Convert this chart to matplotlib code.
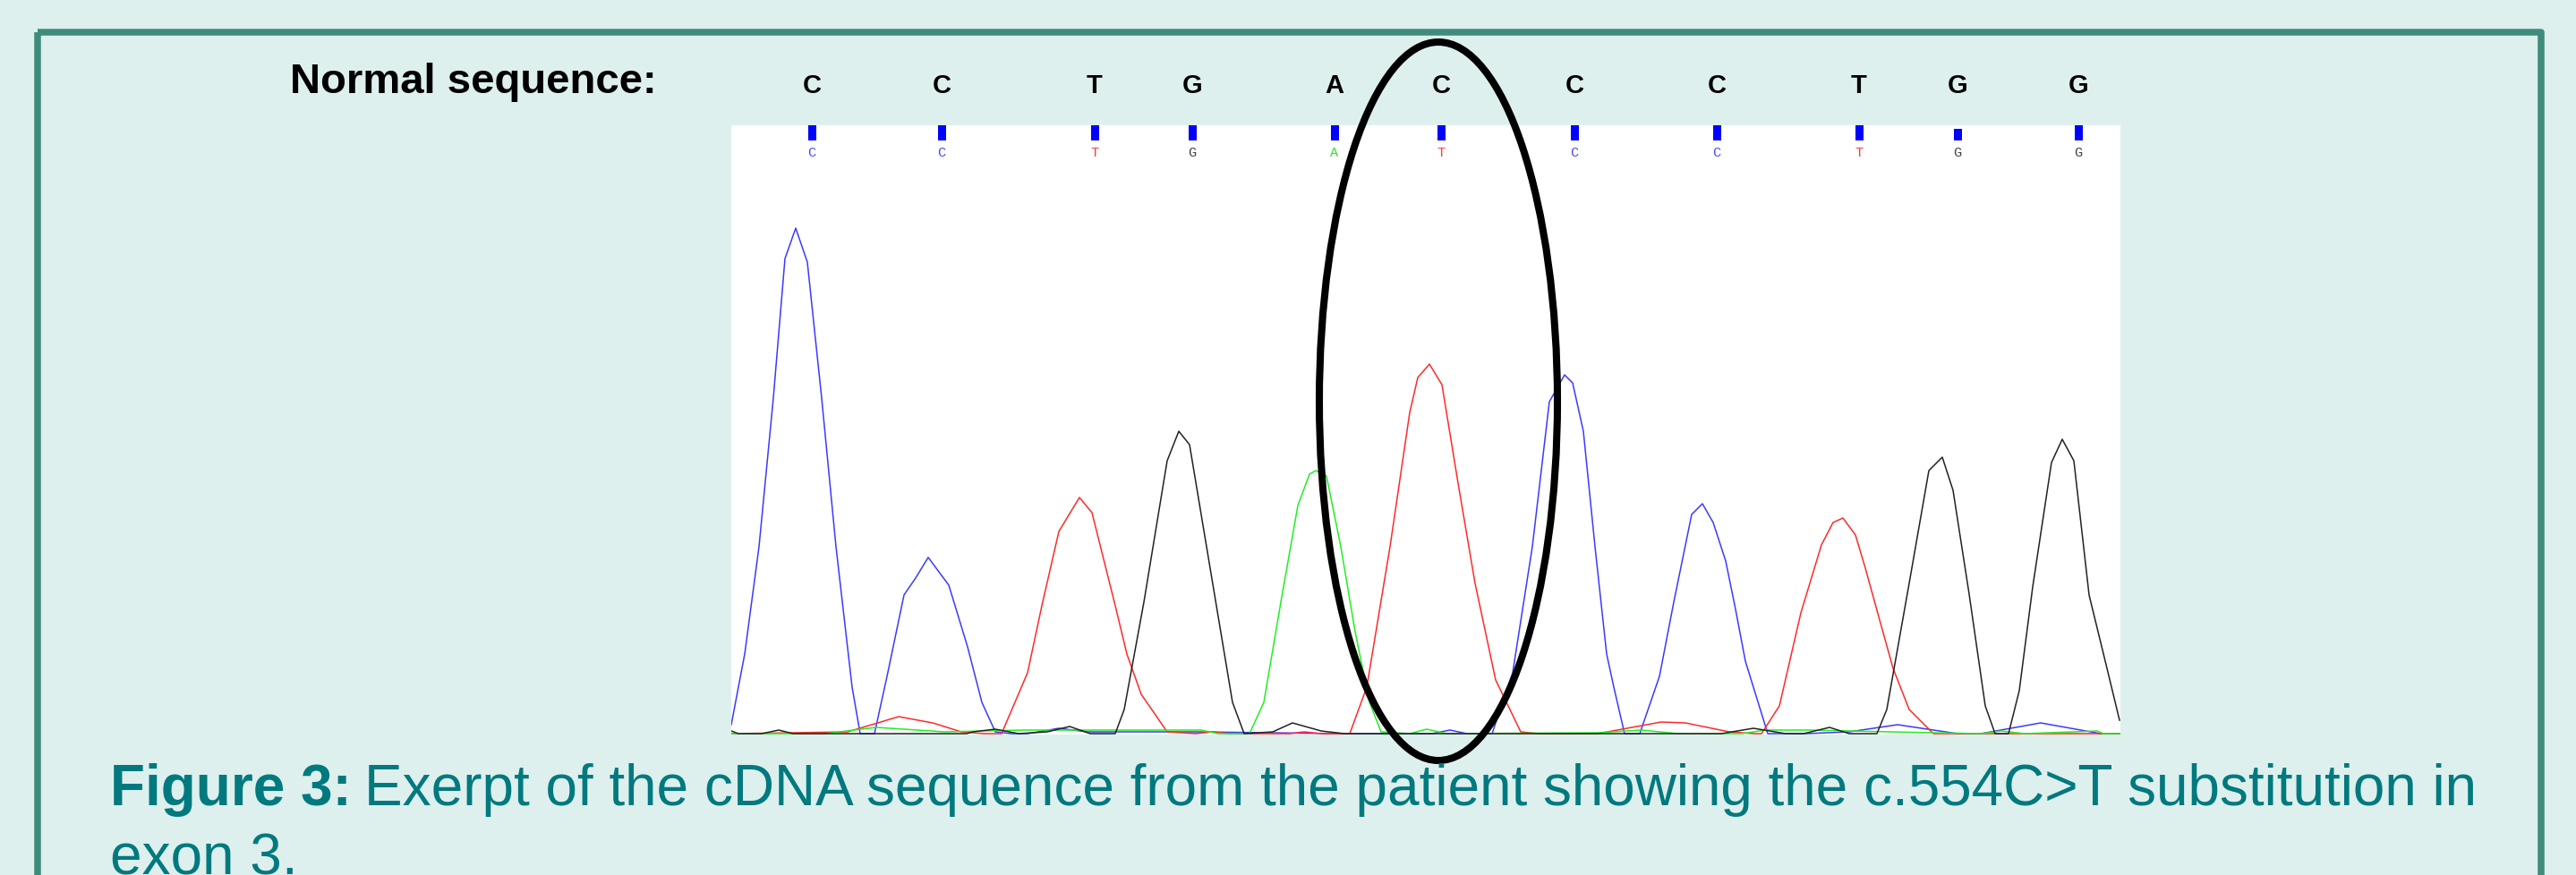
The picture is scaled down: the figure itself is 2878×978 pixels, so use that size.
import numpy as np
import matplotlib
matplotlib.use("Agg")
import matplotlib.pyplot as plt
import matplotlib.transforms as mtransforms
from matplotlib.patches import Ellipse, Rectangle

plt.rcParams['font.family'] = ['Liberation Sans', 'DejaVu Sans']

# chromatogram traces: scan position and signal
blue_x = [0, 15, 31, 47, 60, 72, 85, 101, 117, 135, 144, 160, 174, 193, 206, 220, 243, 264, 280, 295,
          313, 331, 366, 398, 519, 683, 783, 803, 822, 850, 873, 895, 914, 931, 940, 952, 965, 978, 986,
          998, 1015, 1037, 1053, 1073, 1085, 1097, 1111, 1122, 1133, 1158, 1200, 1249, 1303, 1370, 1396,
          1463, 1530, 1552]
blue_y = [10, 89, 209, 375, 531, 565, 527, 375, 209, 52, 0, 0, 64, 155, 174, 197, 166, 97, 35, 2,
          0, 0, 6, 2, 2, 0, 0, 4, 0, 0, 68, 209, 371, 401, 392, 338, 209, 89, 52,
          0, 0, 64, 147, 245, 257, 236, 193, 139, 81, 0, 0, 2, 10, 0, 0,
          12, 0, 0]

red_x = [0, 69, 130, 187, 225, 257, 283, 302, 331, 347, 366, 389, 403, 429, 442, 458, 487, 519, 538, 557,
         624, 640, 659, 691, 710, 736, 758, 767, 780, 794, 812, 831, 854, 882, 903, 968, 1039, 1066, 1115,
         1143, 1151, 1171, 1195, 1218, 1231, 1242, 1256, 1267, 1283, 1298, 1316, 1343, 1552]
red_y = [0, 1, 2, 19, 12, 2, 0, 0, 68, 143, 226, 264, 247, 143, 89, 44, 2, 0, 2, 0,
         0, 2, 0, 0, 52, 209, 359, 398, 413, 390, 280, 168, 60, 2, 0, 0, 13, 12, 2,
         0, 0, 31, 135, 211, 236, 241, 222, 185, 127, 73, 27, 0, 0]

green_x = [0, 104, 162, 238, 327, 442, 525, 544, 579, 595, 614, 633, 646, 653, 665, 681, 697, 713, 726,
           758, 777, 799, 968, 1017, 1057, 1129, 1155, 1204, 1343, 1396, 1419, 1445, 1499, 1526, 1533, 1552]
green_y = [0, 0, 7, 2, 4, 4, 4, 0, 0, 35, 147, 255, 290, 294, 288, 209, 114, 35, 2,
           0, 5, 0, 1, 4, 0, 0, 4, 4, 1, 0, 3, 0, 2, 3, 0, 0]

black_x = [0, 8, 34, 53, 69, 263, 270, 295, 321, 353, 378, 401, 429, 439, 461, 487, 500, 512, 531, 560,
           573, 605, 627, 659, 685, 1106, 1142, 1178, 1198, 1227, 1249, 1280, 1291, 1316, 1338, 1353,
           1365, 1383, 1401, 1412, 1427, 1439, 1454, 1475, 1487, 1500, 1517, 1537, 1551]
black_y = [3, 0, 0, 4, 0, 0, 2, 5, 0, 2, 8, 0, 0, 27, 147, 305, 338, 323, 209, 35,
           0, 2, 12, 3, 0, 0, 6, 0, 0, 7, 0, 0, 27, 168, 294, 309,
           272, 156, 31, 0, 0, 48, 164, 303, 329, 305, 155, 73, 15]

# base calls
call_pos = [90, 235, 406, 515, 674, 793, 942, 1101, 1260, 1370, 1505]
call_base = ['C', 'C', 'T', 'G', 'A', 'T', 'C', 'C', 'T', 'G', 'G']
call_qual = [17, 17, 17, 17, 17, 17, 17, 17, 17, 13, 17]
normal_seq = ['C', 'C', 'T', 'G', 'A', 'C', 'C', 'C', 'T', 'G', 'G']

trace_col = {'C': '#3a3aff', 'T': '#ff2a2a', 'A': '#22ee22', 'G': '#222222'}
call_col = {'C': '#4b4bff', 'T': '#ff3b3b', 'A': '#33dd33', 'G': '#444444'}

W, H = 2878, 979
fig = plt.figure(figsize=(W / 100, H / 100), dpi=100, facecolor='#ddf0ed')

def px_axes(x0, y0, x1, y1):
    return fig.add_axes([x0 / W, 1 - y1 / H, (x1 - x0) / W, (y1 - y0) / H])

# trace panel
ax = px_axes(817, 141, 2369, 822)
ax.set_facecolor('white')
ax.plot(blue_x, blue_y, color=trace_col['C'], lw=1.1)
ax.plot(red_x, red_y, color=trace_col['T'], lw=1.1)
ax.plot(green_x, green_y, color=trace_col['A'], lw=1.1)
ax.plot(black_x, black_y, color=trace_col['G'], lw=1.1)
ax.set_xlim(0, 1552)
ax.set_ylim(-1, 680)
ax.axis('off')
ax.add_patch(Rectangle((0, 0), 1, 1, transform=ax.transAxes, color='white', zorder=0))

# base call strip
axs = px_axes(817, 141, 2369, 180)
axs.patch.set_alpha(0)
axs.bar(call_pos, call_qual, bottom=22, width=9, color='#0000ff')
for p, b in zip(call_pos, call_base):
    axs.text(p, 9, b, color=call_col[b], fontsize=11, family='Liberation Mono',
             ha='center', va='center')
axs.set_xlim(0, 1552)
axs.set_ylim(0, 39)
axs.axis('off')

# overlay in pixel units
ov = px_axes(0, 0, W, H)
ov.set_xlim(0, W)
ov.set_ylim(H, 0)
ov.axis('off')
ov.set_zorder(10)

ov.add_patch(Rectangle((42, 37), 2797, 1000, fill=False, ec='#3f8c7c', lw=5.4,
                       joinstyle='round', clip_on=False))
ov.add_patch(Ellipse((1607, 449.5), 266, 803, fill=False, ec='black', lw=5.8))

ov.text(734, 104, 'Normal sequence:', fontsize=34, fontweight='bold', ha='right', va='baseline')
tr = mtransforms.blended_transform_factory(axs.transData, ov.transData)
for p, b in zip(call_pos, normal_seq):
    ov.text(p, 104, b, transform=tr, fontsize=21, fontweight='bold', ha='center', va='baseline')

cap_col = '#00797f'
t1 = ov.text(123, 900, 'Figure 3:', fontsize=46, fontweight='bold', color=cap_col, va='baseline')
fig.canvas.draw()
bb = t1.get_window_extent()
ov.text(bb.x1 + 14, 900, 'Exerpt of the cDNA sequence from the patient showing the c.554C>T substitution in',
        fontsize=46, color=cap_col, va='baseline')
ov.text(123, 978, 'exon 3.', fontsize=46, color=cap_col, va='baseline')

fig.savefig('out.png', dpi=100, facecolor=fig.get_facecolor())
